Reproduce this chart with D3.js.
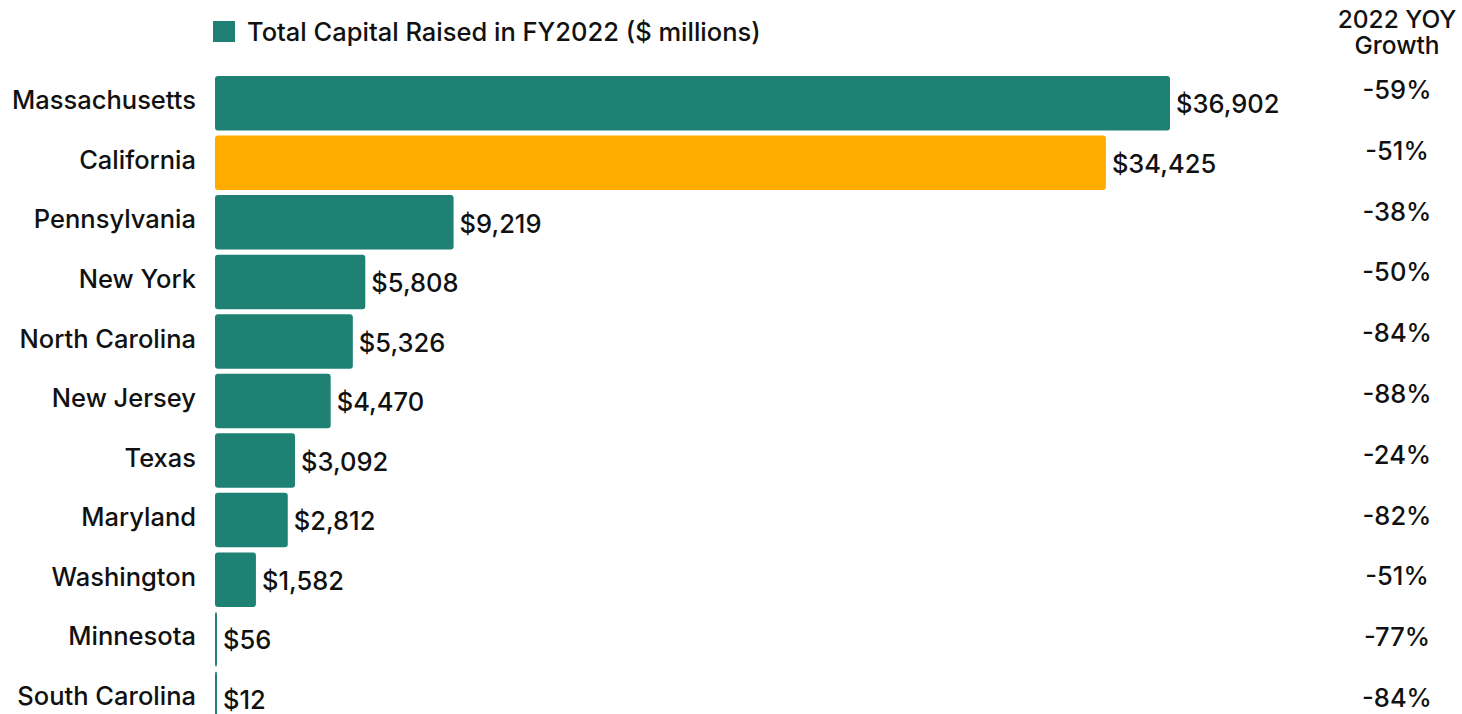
<!DOCTYPE html>
<html>
<head>
<meta charset="utf-8">
<script src="https://cdn.jsdelivr.net/npm/d3@7"></script>
<style>
  html, body { margin: 0; padding: 0; background: #ffffff; }
  svg { display: block; }
  text { font-family: Inter, "Noto Sans", sans-serif; fill: #111111; font-weight: 500; }
</style>
</head>
<body>
<svg id="chart" width="1462" height="714"></svg>
<script>
// State-level capital raised in FY2022 and its year-over-year change
const states = ["Massachusetts", "California", "Pennsylvania", "New York", "North Carolina",
  "New Jersey", "Texas", "Maryland", "Washington", "Minnesota", "South Carolina"];
const capitalRaised = [36902, 34425, 9219, 5808, 5326, 4470, 3092, 2812, 1582, 56, 12];
const yoyGrowth = [-59, -51, -38, -50, -84, -88, -24, -82, -51, -77, -84];
const highlightState = "California";
const legendLabel = "Total Capital Raised in FY2022 ($ millions)";
const growthHeader = ["2022 YOY", "Growth"];

const teal = "#1f8074";
const orange = "#ffab00";

const svg = d3.select("#chart");
const fontSize = 25.5;

const x = d3.scaleLinear().domain([0, 36902]).range([215, 1170]);
const y = d3.scaleBand().domain(states).range([76, 726]).paddingInner(0.085).paddingOuter(0);
// growth figures sit on their own, slightly wider row spacing (baselines)
const yGrowth = d3.scalePoint().domain(states).range([99, 707]);

const fmt = d3.format(",");

// Bars
svg.append("g").selectAll("rect")
  .data(states)
  .join("rect")
  .attr("x", x(0))
  .attr("y", d => y(d))
  .attr("width", (d, i) => Math.max(2, x(capitalRaised[i]) - x(0)))
  .attr("height", y.bandwidth())
  .attr("rx", 3)
  .attr("fill", d => d === highlightState ? orange : teal);

// Category axis (labels only)
const yAxis = d3.axisLeft(y).tickSize(0).tickPadding(0);
const gy = svg.append("g").attr("transform", "translate(196,0)").call(yAxis);
gy.select(".domain").remove();
gy.selectAll("text")
  .attr("font-size", fontSize)
  .attr("font-family", "Inter, 'Noto Sans', sans-serif")
  .attr("font-weight", 500)
  .attr("fill", "#111")
  .attr("dy", "0.24em");

// Value labels
svg.append("g").selectAll("text")
  .data(states)
  .join("text")
  .attr("x", (d, i) => Math.max(x(capitalRaised[i]), x(0) + 2) + 6)
  .attr("y", d => y(d) + y.bandwidth() / 2)
  .attr("dy", "0.4em")
  .attr("font-size", fontSize)
  .text((d, i) => "$" + fmt(capitalRaised[i]));

// Growth column
svg.append("g").selectAll("text")
  .data(states)
  .join("text")
  .attr("x", 1397)
  .attr("y", d => yGrowth(d))
  .attr("text-anchor", "middle")
  .attr("font-size", fontSize)
  .text((d, i) => yoyGrowth[i] + "%");

// Column header, two lines
svg.append("g").selectAll("text")
  .data(growthHeader)
  .join("text")
  .attr("x", 1397)
  .attr("y", (d, i) => 27.5 + i * 26)
  .attr("text-anchor", "middle")
  .attr("font-size", 24.5)
  .text(d => d);

// Legend
const legend = svg.append("g");
legend.append("rect")
  .attr("x", 213).attr("y", 21).attr("width", 22).attr("height", 21)
  .attr("fill", teal);
legend.append("text")
  .attr("x", 247).attr("y", 41)
  .attr("font-size", fontSize)
  .text(legendLabel);
</script>
</body>
</html>
